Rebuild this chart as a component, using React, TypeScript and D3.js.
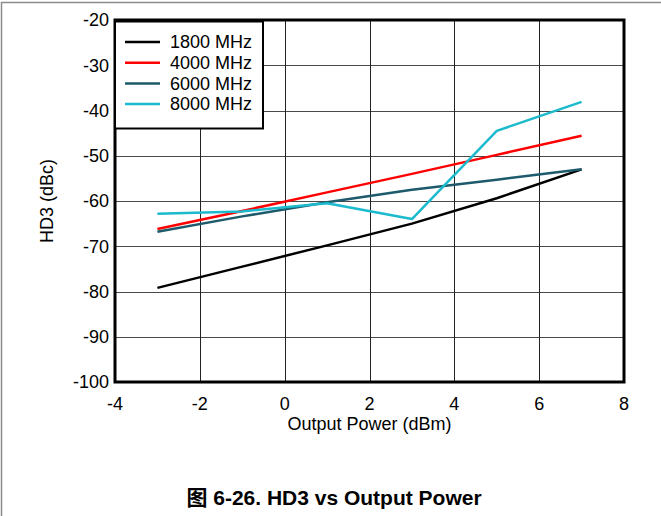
import React, { useRef, useEffect } from 'react';
import * as d3 from 'd3';

const powers = [-3, -1, 1, 3, 5, 7];
const hd3_1800 = [-79.2, -74.5, -69.8, -65, -59.4, -53];
const hd3_4000 = [-66.2, -62.2, -58.1, -54, -49.8, -45.6];
const hd3_6000 = [-66.8, -63.4, -60.3, -57.5, -55.3, -53];
const hd3_8000 = [-62.8, -62.3, -60.5, -64, -44.5, -38.1];
const seriesNames = ['1800 MHz', '4000 MHz', '6000 MHz', '8000 MHz'];
const xTicks = [-4, -2, 0, 2, 4, 6, 8];
const yTicks = [-20, -30, -40, -50, -60, -70, -80, -90, -100];

const colors = ['#000000', '#ff0000', '#1d5a6b', '#1bbacd'];

const App: React.FC = () => {
  const svgRef = useRef<SVGSVGElement>(null);

  useEffect(() => {
    if (!svgRef.current) return;
    const svg = d3.select(svgRef.current);
    svg.selectAll('*').remove();

    const W = 661, H = 516;
    const margin = { top: 20, right: 37, bottom: 134, left: 115 };
    const width = W - margin.left - margin.right;
    const height = H - margin.top - margin.bottom;
    const font = 'Liberation Sans, Arial, sans-serif';

    // page frame
    svg.append('rect')
      .attr('x', 1.5).attr('y', 2.5)
      .attr('width', 800).attr('height', 800)
      .attr('fill', 'none').attr('stroke', '#8c8c8c').attr('stroke-width', 1.5);

    const x = d3.scaleLinear().domain([-4, 8]).range([0, width]);
    const y = d3.scaleLinear().domain([-100, -20]).range([height, 0]);

    const g = svg.append('g').attr('transform', `translate(${margin.left},${margin.top})`);

    // grid
    g.append('g').selectAll('line').data(yTicks).join('line')
      .attr('x1', 0).attr('x2', width)
      .attr('y1', d => Math.round(y(d)) + 0.5).attr('y2', d => Math.round(y(d)) + 0.5)
      .attr('stroke', '#4a4a4a').attr('stroke-width', 1);
    g.append('g').selectAll('line').data(xTicks).join('line')
      .attr('y1', 0).attr('y2', height)
      .attr('x1', d => Math.round(x(d)) + 0.5).attr('x2', d => Math.round(x(d)) + 0.5)
      .attr('stroke', '#222').attr('stroke-width', 1);

    // lines
    const allSeries = [hd3_1800, hd3_4000, hd3_6000, hd3_8000];
    const line = d3.line<number>()
      .x((_, i) => x(powers[i]))
      .y(d => y(d));
    allSeries.forEach((vals, i) => {
      g.append('path')
        .datum(vals)
        .attr('fill', 'none')
        .attr('stroke', colors[i])
        .attr('stroke-width', 2.5)
        .attr('stroke-linejoin', 'round')
        .attr('d', line);
    });

    // plot border
    g.append('rect')
      .attr('x', 0).attr('y', 0).attr('width', width).attr('height', height)
      .attr('fill', 'none').attr('stroke', '#000').attr('stroke-width', 3);

    // tick labels
    g.append('g').selectAll('text').data(yTicks).join('text')
      .attr('x', -6).attr('y', d => y(d))
      .attr('dy', '0.35em')
      .attr('text-anchor', 'end')
      .style('font-family', font).style('font-size', '18px')
      .text(d => d);
    g.append('g').selectAll('text').data(xTicks).join('text')
      .attr('x', d => x(d)).attr('y', height + 28)
      .attr('text-anchor', 'middle')
      .style('font-family', font).style('font-size', '18px')
      .text(d => d);

    // axis titles
    svg.append('text')
      .attr('x', margin.left + width / 2).attr('y', 430)
      .attr('text-anchor', 'middle')
      .style('font-family', font).style('font-size', '18px')
      .text('Output Power (dBm)');
    svg.append('text')
      .attr('transform', `translate(53,${margin.top + height / 2}) rotate(-90)`)
      .attr('text-anchor', 'middle')
      .style('font-family', font).style('font-size', '18px')
      .text('HD3 (dBc)');

    // legend
    const legend = g.append('g');
    legend.append('rect')
      .attr('x', 0).attr('y', 1.5).attr('width', 148).attr('height', 107)
      .attr('fill', '#fff').attr('stroke', '#000').attr('stroke-width', 2);
    seriesNames.forEach((name, i) => {
      const ly = 22 + i * 20.7;
      legend.append('line')
        .attr('x1', 10).attr('x2', 45).attr('y1', ly).attr('y2', ly)
        .attr('stroke', colors[i]).attr('stroke-width', 2.5);
      legend.append('text')
        .attr('x', 55).attr('y', ly).attr('dy', '0.35em')
        .style('font-family', font).style('font-size', '18px')
        .text(name);
    });

    // caption
    const cap = svg.append('text')
      .attr('x', 334).attr('y', 505)
      .attr('text-anchor', 'middle')
      .style('font-family', font).style('font-size', '21px')
      .style('font-weight', 'bold');
    cap.append('tspan').style('font-family', 'Noto Sans CJK SC').text('图');
    cap.append('tspan').text(' 6-26. HD3 vs Output Power');
  }, []);

  return (
    <svg ref={svgRef} width={661} height={516}
      style={{ position: 'absolute', left: 0, top: 0, background: '#fff' }} />
  );
};

export default App;
